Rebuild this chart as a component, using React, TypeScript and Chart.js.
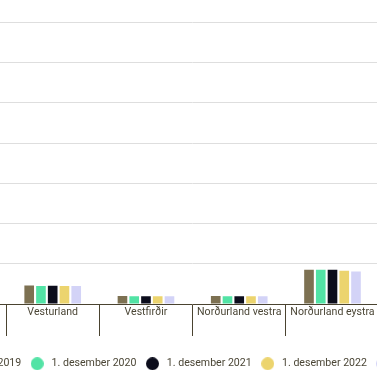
import React, { useEffect, useRef } from "react";
import { Chart, registerables } from "chart.js";

Chart.register(...registerables);

const categories = [
  "Suðurnes",
  "Vesturland",
  "Vestfirðir",
  "Norðurland vestra",
  "Norðurland eystra",
  "Austurland",
];
const seriesLabels = [
  "1. desember 2019",
  "1. desember 2020",
  "1. desember 2021",
  "1. desember 2022",
  "1. desember 2023",
];
const series2019 = [null, 18500, 8000, 8000, 34000, null];
const series2020 = [null, 18000, 7800, 7700, 34000, null];
const series2021 = [null, 18200, 7800, 7700, 34000, null];
const series2022 = [null, 18000, 7800, 7700, 33000, null];
const series2023 = [null, 18000, 7700, 7700, 32300, null];
const seriesColors = ["#7d7152", "#52e3a5", "#0c0d1c", "#ecd46e", "#d3d3f7"];
const yMax = 320000;
const yStep = 40000;

function makeDot(color: string): HTMLCanvasElement {
  const c = document.createElement("canvas");
  c.width = 13;
  c.height = 13;
  const ctx = c.getContext("2d");
  if (ctx) {
    ctx.fillStyle = color;
    ctx.beginPath();
    ctx.arc(6.5, 6.5, 6.5, 0, Math.PI * 2);
    ctx.fill();
  }
  return c;
}

export default function App() {
  const ref = useRef<HTMLCanvasElement | null>(null);

  useEffect(() => {
    if (!ref.current) return;
    const all = [series2019, series2020, series2021, series2022, series2023];
    const dots = seriesColors.map(makeDot);
    const textColor = "#4b4636";
    const chart = new Chart(ref.current, {
      type: "bar",
      data: {
        labels: categories,
        datasets: all.map((d, i) => ({
          label: seriesLabels[i],
          data: d,
          backgroundColor: seriesColors[i],
          borderWidth: 0,
          categoryPercentage: 0.63,
          barPercentage: 0.82,
          yAxisID: "y",
        })),
      },
      options: {
        responsive: true,
        maintainAspectRatio: false,
        animation: false,
        layout: { padding: 0 },
        font: { family: "Roboto", size: 10.6 },
        plugins: {
          tooltip: { enabled: false },
          legend: {
            position: "bottom",
            align: "start",
            labels: {
              usePointStyle: true,
              pointStyleWidth: 18,
              padding: 7,
              color: textColor,
              font: { family: "Roboto", size: 10.6 },
              generateLabels: (c: any) =>
                (Chart.defaults.plugins.legend.labels as any)
                  .generateLabels(c)
                  .map((l: any) => ({ ...l, pointStyle: dots[l.datasetIndex] })),
            },
          },
        },
        scales: {
          x: {
            offset: true,
            grid: {
              display: true,
              offset: true,
              drawOnChartArea: false,
              drawTicks: true,
              tickLength: 32,
              color: "#4a4330",
              lineWidth: 1,
            },
            border: { display: true, color: "#4a4330", width: 1 },
            ticks: {
              color: textColor,
              padding: -29.7,
              maxRotation: 0,
              autoSkip: false,
              font: { family: "Roboto", size: 10.6 },
            },
            afterFit: (scale: any) => {
              scale.height = 47.4;
            },
          },
          y: {
            position: "left",
            min: 0,
            max: yMax,
            ticks: { display: false, stepSize: yStep },
            grid: { color: "#dedede", lineWidth: 1, drawTicks: false },
            border: { display: false },
            afterFit: (scale: any) => {
              scale.width = 6.8;
            },
          },
          yRight: {
            position: "right",
            display: true,
            min: 0,
            max: yMax,
            ticks: { display: false },
            grid: { display: false, drawTicks: false },
            border: { display: false },
            afterFit: (scale: any) => {
              scale.width = 33.6;
            },
          },
        },
      },
    } as any);
    return () => chart.destroy();
  }, []);

  return (
    <div
      style={{
        position: "fixed",
        left: 0,
        top: 0,
        width: 377,
        height: 377,
        overflow: "hidden",
        background: "#ffffff",
      }}
    >
      <div
        style={{
          position: "absolute",
          left: -94,
          top: -18,
          width: 600,
          height: 397,
        }}
      >
        <canvas ref={ref} />
      </div>
    </div>
  );
}
